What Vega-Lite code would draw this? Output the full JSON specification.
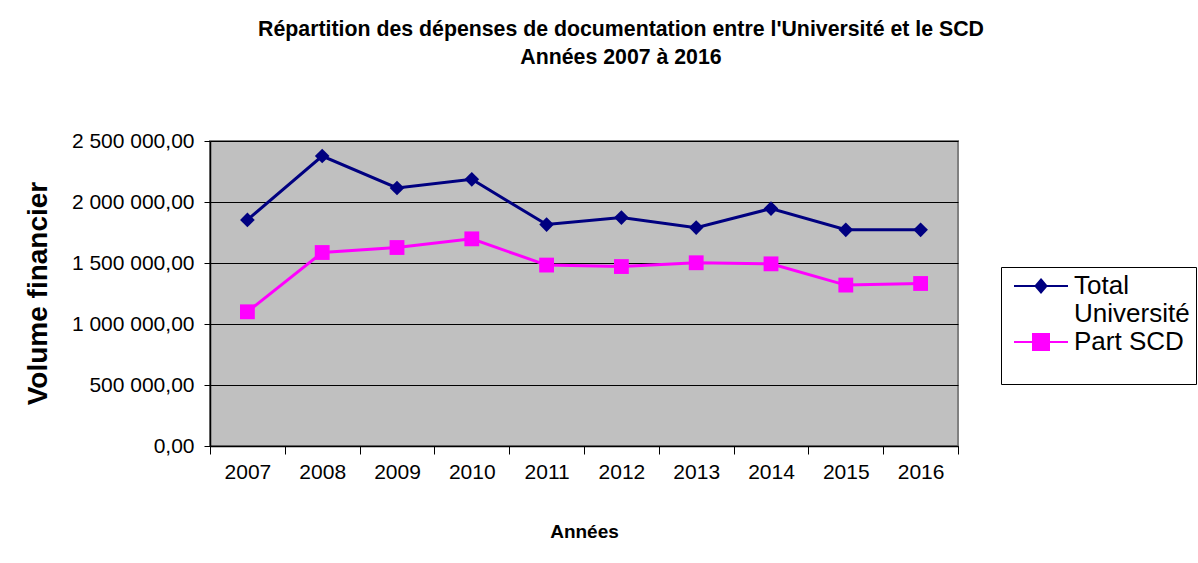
{
  "$schema": "https://vega.github.io/schema/vega-lite/v6.json",
  "width": 748,
  "height": 305,
  "autosize": {"type": "none"},
  "padding": {"left": 210, "top": 141, "right": 240, "bottom": 117},
  "background": "white",
  "config": {
    "locale": {"number": {"decimal": ",", "thousands": " ", "grouping": [3], "currency": ["", " €"]}},
    "font": "Liberation Sans",
    "view": {"fill": "#C0C0C0", "stroke": "#808080", "strokeWidth": 2}
  },
  "title": {
    "text": ["Répartition des dépenses de documentation entre l'Université et le SCD", "Années 2007 à 2016"],
    "fontSize": 21.3,
    "fontWeight": "bold",
    "color": "black",
    "lineHeight": 28,
    "anchor": "middle",
    "dx": 37,
    "offset": 62
  },
  "data": {
    "values": [
      {"annee": "2007", "serie": "Total Université", "valeur": 1853000},
      {"annee": "2008", "serie": "Total Université", "valeur": 2377000},
      {"annee": "2009", "serie": "Total Université", "valeur": 2115000},
      {"annee": "2010", "serie": "Total Université", "valeur": 2186000},
      {"annee": "2011", "serie": "Total Université", "valeur": 1815000},
      {"annee": "2012", "serie": "Total Université", "valeur": 1872000},
      {"annee": "2013", "serie": "Total Université", "valeur": 1790000},
      {"annee": "2014", "serie": "Total Université", "valeur": 1946000},
      {"annee": "2015", "serie": "Total Université", "valeur": 1772000},
      {"annee": "2016", "serie": "Total Université", "valeur": 1772000},
      {"annee": "2007", "serie": "Part SCD", "valeur": 1100000},
      {"annee": "2008", "serie": "Part SCD", "valeur": 1586000},
      {"annee": "2009", "serie": "Part SCD", "valeur": 1627000},
      {"annee": "2010", "serie": "Part SCD", "valeur": 1698000},
      {"annee": "2011", "serie": "Part SCD", "valeur": 1483000},
      {"annee": "2012", "serie": "Part SCD", "valeur": 1471000},
      {"annee": "2013", "serie": "Part SCD", "valeur": 1502000},
      {"annee": "2014", "serie": "Part SCD", "valeur": 1493000},
      {"annee": "2015", "serie": "Part SCD", "valeur": 1319000},
      {"annee": "2016", "serie": "Part SCD", "valeur": 1332000}
    ]
  },
  "encoding": {
    "x": {
      "field": "annee",
      "type": "ordinal",
      "scale": {"type": "band", "paddingInner": 0, "paddingOuter": 0},
      "axis": {
        "title": "Années",
        "titleFontSize": 19,
        "titleFontWeight": "bold",
        "titleColor": "black",
        "titleBaseline": "middle",
        "titleY": 85,
        "labelAngle": 0,
        "labelFontSize": 21,
        "labelColor": "black",
        "labelPadding": 7,
        "tickBand": "extent",
        "tickSize": 8,
        "tickColor": "black",
        "domainColor": "black",
        "domainWidth": 1.5,
        "grid": false
      }
    },
    "y": {
      "field": "valeur",
      "type": "quantitative",
      "scale": {"domain": [0, 2500000]},
      "axis": {
        "title": "Volume financier",
        "titleFontSize": 28,
        "titleFontWeight": "bold",
        "titleColor": "black",
        "titleX": -172,
        "titleY": 152,
        "titleAngle": -90,
        "titleBaseline": "middle",
        "titleAlign": "center",
        "values": [0, 500000, 1000000, 1500000, 2000000, 2500000],
        "format": ",.2f",
        "labelFontSize": 21,
        "labelColor": "black",
        "labelPadding": 10,
        "tickSize": 6,
        "tickColor": "black",
        "domainColor": "black",
        "domainWidth": 1.5,
        "grid": true,
        "gridColor": "black",
        "gridWidth": 1
      }
    },
    "color": {
      "field": "serie",
      "type": "nominal",
      "scale": {"domain": ["Total Université", "Part SCD"], "range": ["#000080", "#FF00FF"]},
      "legend": {
        "orient": "none",
        "legendX": 791,
        "legendY": 126,
        "title": " ",
        "titleOrient": "bottom",
        "titleFontSize": 23,
        "titlePadding": 0,
        "strokeColor": "black",
        "fillColor": "white",
        "padding": 6,
        "labelFontSize": 26,
        "labelColor": "black",
        "labelExpr": "datum.label == 'Total Université' ? ['Total', 'Université'] : datum.label",
        "labelLineHeight": 27,
        "symbolSize": 400,
        "symbolStrokeWidth": 2,
        "symbolOffset": 21,
        "labelOffset": 20,
        "encode": {
          "symbols": {
            "update": {
              "shape": {"signal": "datum.label == 'Part SCD' ? 'M-2.7,0L2.7,0M-0.8,-0.8L0.8,-0.8L0.8,0.8L-0.8,0.8Z' : 'M-2.7,0L2.7,0M0,-0.65L0.55,0L0,0.65L-0.55,0Z'"},
              "fill": {"signal": "datum.label == 'Part SCD' ? '#FF00FF' : '#000080'"},
              "stroke": {"signal": "datum.label == 'Part SCD' ? '#FF00FF' : '#000080'"},
              "strokeWidth": {"value": 2},
              "strokeOpacity": {"value": 1},
              "fillOpacity": {"value": 1},
              "opacity": {"value": 1}
            }
          }
        }
      }
    }
  },
  "layer": [
    {"mark": {"type": "line", "strokeWidth": 3}},
    {"transform": [{"filter": "datum.serie == 'Total Université'"}],
     "mark": {"type": "point", "filled": true, "opacity": 1, "shape": "diamond", "size": 215}},
    {"transform": [{"filter": "datum.serie == 'Part SCD'"}],
     "mark": {"type": "point", "filled": true, "opacity": 1, "shape": "square", "size": 220}}
  ]
}
